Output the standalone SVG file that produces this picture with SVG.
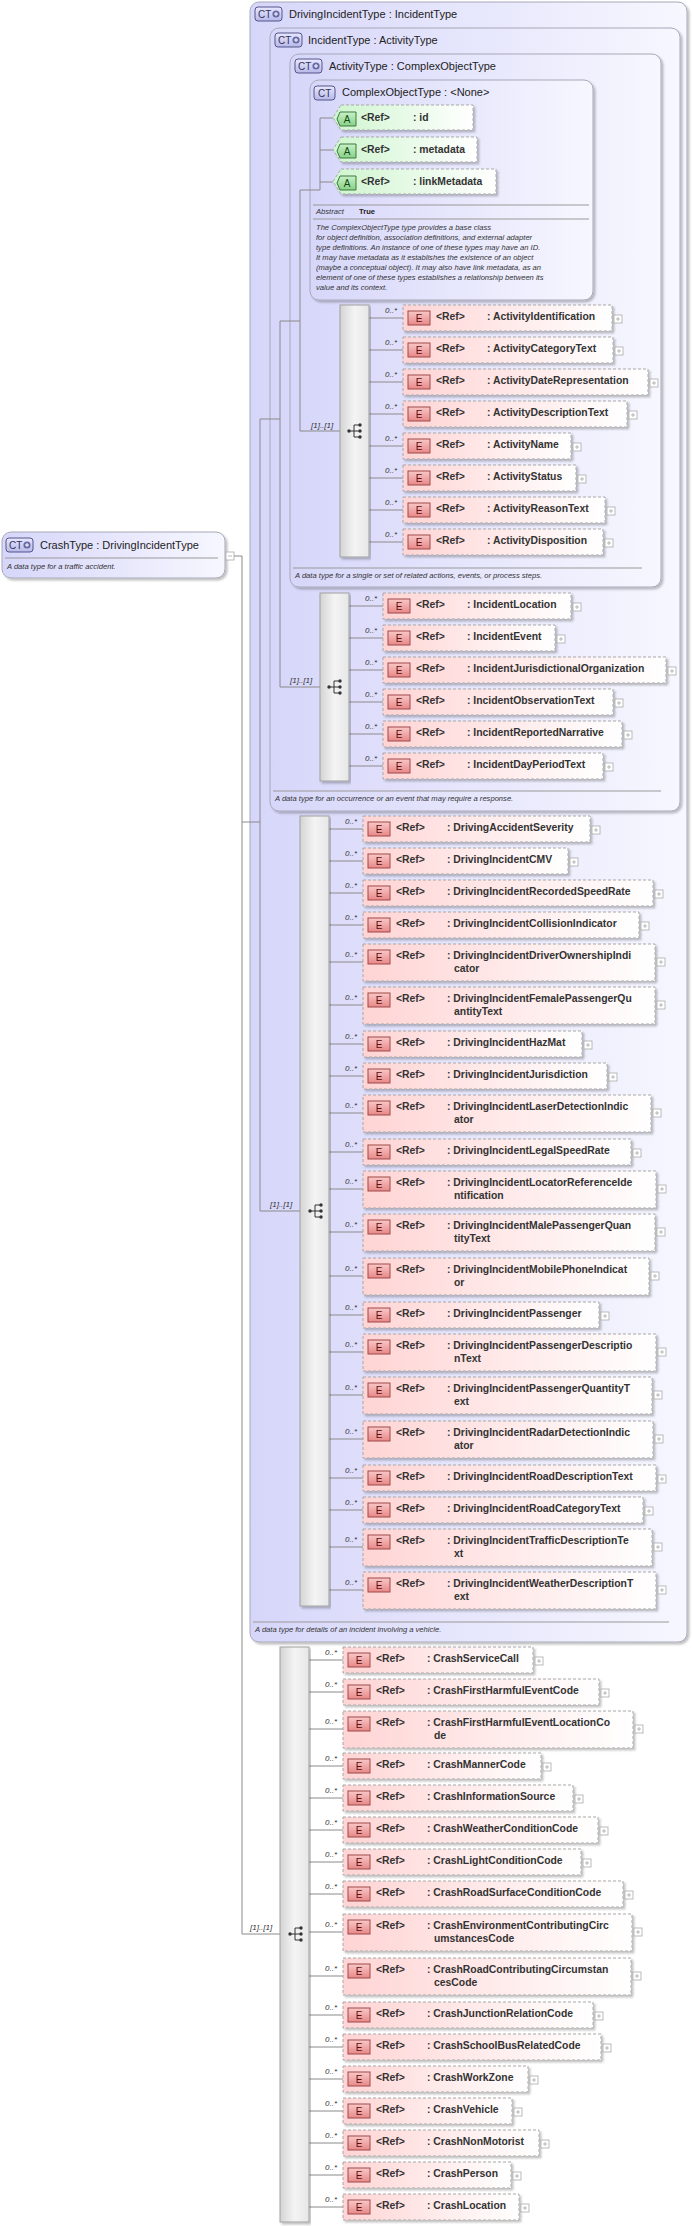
<svg xmlns="http://www.w3.org/2000/svg" width="692" height="2226" viewBox="0 0 692 2226">
<defs>
<linearGradient id="gBox" x1="0" y1="0" x2="1" y2="0"><stop offset="0" stop-color="#d6d6fa"/><stop offset="1" stop-color="#f7f7ff"/></linearGradient>
<linearGradient id="gEl" x1="0" y1="0" x2="1" y2="0"><stop offset="0" stop-color="#ffd4d4"/><stop offset="1" stop-color="#ffffff"/></linearGradient>
<linearGradient id="gAt" x1="0" y1="0" x2="1" y2="0"><stop offset="0" stop-color="#cff5cf"/><stop offset="1" stop-color="#ffffff"/></linearGradient>
<linearGradient id="gBar" x1="0" y1="0" x2="1" y2="0"><stop offset="0" stop-color="#d4d4d4"/><stop offset="0.5" stop-color="#f4f4f4"/><stop offset="1" stop-color="#e6e6e6"/></linearGradient>
<linearGradient id="gE" x1="0" y1="0" x2="0" y2="1"><stop offset="0" stop-color="#f9c8c8"/><stop offset="1" stop-color="#e88888"/></linearGradient>
<linearGradient id="gA" x1="0" y1="0" x2="0" y2="1"><stop offset="0" stop-color="#c8f0c8"/><stop offset="1" stop-color="#88d088"/></linearGradient>
<linearGradient id="gCT" x1="0" y1="0" x2="0" y2="1"><stop offset="0" stop-color="#e8e8ff"/><stop offset="1" stop-color="#b8b8e8"/></linearGradient>
<filter id="sh" x="-5%" y="-5%" width="110%" height="120%"><feDropShadow dx="2" dy="2" stdDeviation="1.2" flood-color="#000" flood-opacity="0.25"/></filter>
<g id="plus"><rect width="8" height="8" fill="#fff" stroke="#aaa" stroke-width="0.8"/><path d="M2 4H6M4 2V6" stroke="#aaa" stroke-width="0.8"/></g>
<g id="ctp"><circle r="3.6" fill="#6a6aa8"/><path d="M-2 0H2M0 -2V2" stroke="#fff" stroke-width="1"/></g>
<g id="seqi"><path d="M-6 0H-1M-1 -6V6M-1 -6H4M-1 0H4M-1 6H4" stroke="#333" stroke-width="1" fill="none"/><circle cx="-6" cy="0" r="1.7" fill="#333"/><circle cx="5" cy="-6" r="1.7" fill="#333"/><circle cx="5" cy="0" r="1.7" fill="#333"/><circle cx="5" cy="6" r="1.7" fill="#333"/></g>
</defs>
<style>
text{font-family:"Liberation Sans",Arial,sans-serif;fill:#222}
.box{fill:url(#gBox);stroke:#a8a8b8;stroke-width:1;filter:url(#sh)}
.ttl{font-size:11px}
.ct{fill:url(#gCT);stroke:#55558a;stroke-width:1}
.ctt{font-size:10px;fill:#33335a}
.el{fill:url(#gEl);stroke:#a8a8a8;stroke-dasharray:3,2;filter:url(#sh)}
.at{fill:url(#gAt);stroke:#a8a8a8;stroke-dasharray:3,2;filter:url(#sh)}
.ei{fill:url(#gE);stroke:#a04848}
.ai{fill:url(#gA);stroke:#3a7a3a}
.eit{font-size:10px;text-anchor:middle;fill:#5a1010}
.ait{font-size:10px;text-anchor:middle;fill:#104a10}
.nm{font-size:10.4px;font-weight:bold;fill:#333}
.mul{font-size:8px;font-style:italic;fill:#333}
.bar{fill:url(#gBar);stroke:#a0a0a0;filter:url(#sh)}
.ln{stroke:#8a8a8a;stroke-width:1;fill:none}
.dl{stroke:#999;stroke-width:1}
.desc{font-size:7.6px;font-style:italic;fill:#333}
</style>

<g id="DrivingIncidentType">
<rect class="box" x="250" y="2" width="437" height="1640" rx="9"/>
<rect class="ct" x="255" y="7" width="27" height="14" rx="3"/><text class="ctt" x="258" y="18">CT</text><use href="#ctp" x="276" y="14"/>
<text class="ttl" x="289" y="18">DrivingIncidentType : IncidentType</text>
<line class="dl" x1="253" y1="1622" x2="669" y2="1622"/>
<text class="desc" x="255" y="1632">A data type for details of an incident involving a vehicle.</text>
</g>
<g id="IncidentType">
<rect class="box" x="270" y="28" width="410" height="783" rx="9"/>
<rect class="ct" x="275" y="33" width="27" height="14" rx="3"/><text class="ctt" x="278" y="44">CT</text><use href="#ctp" x="296" y="40"/>
<text class="ttl" x="308" y="44">IncidentType : ActivityType</text>
<line class="dl" x1="273" y1="791" x2="661" y2="791"/>
<text class="desc" x="275" y="801">A data type for an occurrence or an event that may require a response.</text>
</g>
<g id="ActivityType">
<rect class="box" x="290" y="54" width="371" height="533" rx="9"/>
<rect class="ct" x="295" y="59" width="27" height="14" rx="3"/><text class="ctt" x="298" y="70">CT</text><use href="#ctp" x="316" y="66"/>
<text class="ttl" x="329" y="70">ActivityType : ComplexObjectType</text>
<line class="dl" x1="293" y1="568" x2="642" y2="568"/>
<text class="desc" x="295" y="578">A data type for a single or set of related actions, events, or process steps.</text>
</g>
<g id="ComplexObjectType">
<rect class="box" x="310" y="80" width="283" height="220" rx="9"/>
<rect class="ct" x="314" y="86" width="21" height="14" rx="3"/><text class="ctt" x="318" y="97">CT</text>
<text class="ttl" x="342" y="96">ComplexObjectType : &lt;None&gt;</text>
<line class="dl" x1="313" y1="205" x2="589" y2="205"/>
<text class="desc" x="316" y="214">Abstract</text><text x="359" y="214" style="font-size:7.6px;font-weight:bold">True</text>
<line class="dl" x1="313" y1="219" x2="589" y2="219"/>
<text class="desc" x="316" y="230">The ComplexObjectType type provides a base class</text>
<text class="desc" x="316" y="240">for object definition, association definitions, and external adapter</text>
<text class="desc" x="316" y="250">type definitions. An instance of one of these types may have an ID.</text>
<text class="desc" x="316" y="260">It may have metadata as it establishes the existence of an object</text>
<text class="desc" x="316" y="270">(maybe a conceptual object). It may also have link metadata, as an</text>
<text class="desc" x="316" y="280">element of one of these types establishes a relationship between its</text>
<text class="desc" x="316" y="290">value and its context.</text>
</g>

<g id="CrashType">
<rect class="box" x="2" y="532" width="223" height="46" rx="9"/>
<rect class="ct" x="6" y="538" width="27" height="14" rx="3"/><text class="ctt" x="9" y="549">CT</text><use href="#ctp" x="27" y="545"/>
<text class="ttl" x="40" y="549">CrashType : DrivingIncidentType</text>
<line class="dl" x1="5" y1="558" x2="218" y2="558"/>
<text class="desc" x="7" y="569">A data type for a traffic accident.</text>
<rect x="226" y="552" width="8" height="8" fill="#fff" stroke="#aaa" stroke-width="0.8"/><line x1="228" y1="556" x2="232" y2="556" stroke="#aaa" stroke-width="0.8"/>
</g>

<g id="connectors">
<path class="ln" d="M234 556H242V1934H280M242 822H260M260 419V1211H300M260 419H280M280 321V687H320M280 321H300M300 190V431H340M300 190H320M320 118V190M320 118H333M320 150H333M320 182H333"/>
<path class="ln" d="M369 318H403M369 350H403M369 382H403M369 414H403M369 446H403M369 478H403M369 510H403M369 542H403"/>
<path class="ln" d="M349 606H383M349 638H383M349 670H383M349 702H383M349 734H383M349 766H383"/>
<path class="ln" d="M329 829H363M329 861H363M329 893H363M329 925H363M329 962H363M329 1005H363M329 1044H363M329 1076H363M329 1113H363M329 1152H363M329 1189H363M329 1232H363M329 1276H363M329 1315H363M329 1352H363M329 1395H363M329 1439H363M329 1478H363M329 1510H363M329 1547H363M329 1590H363"/>
<path class="ln" d="M309 1660H343M309 1692H343M309 1729H343M309 1766H343M309 1798H343M309 1830H343M309 1862H343M309 1894H343M309 1932H343M309 1976H343M309 2015H343M309 2047H343M309 2079H343M309 2111H343M309 2143H343M309 2175H343M309 2207H343"/>
</g>

<g id="attributes">
<g id="a-id"><path class="at" d="M341 105H473V130H341L333 117.5Z"/><path class="ai" d="M340 112H356V126H340L337 119Z"/><text class="ait" x="347" y="123">A</text><text class="nm" x="361" y="121">&lt;Ref&gt;</text><text class="nm" x="413" y="121">: id</text></g>
<g id="a-metadata"><path class="at" d="M341 137H477V162H341L333 149.5Z"/><path class="ai" d="M340 144H356V158H340L337 151Z"/><text class="ait" x="347" y="155">A</text><text class="nm" x="361" y="153">&lt;Ref&gt;</text><text class="nm" x="413" y="153">: metadata</text></g>
<g id="a-linkMetadata"><path class="at" d="M341 169H496V194H341L333 181.5Z"/><path class="ai" d="M340 176H356V190H340L337 183Z"/><text class="ait" x="347" y="187">A</text><text class="nm" x="361" y="185">&lt;Ref&gt;</text><text class="nm" x="413" y="185">: linkMetadata</text></g>
</g>

<g id="sequences">
<rect class="bar" x="340" y="305" width="29" height="252"/>
<rect class="bar" x="320" y="593" width="29" height="188"/>
<rect class="bar" x="300" y="816" width="29" height="790"/>
<rect class="bar" x="280" y="1647" width="29" height="575"/>
<text class="mul" x="311" y="428">[1]..[1]</text>
<text class="mul" x="290" y="683">[1]..[1]</text>
<text class="mul" x="270" y="1207">[1]..[1]</text>
<text class="mul" x="250" y="1930">[1]..[1]</text>
<use href="#seqi" x="355" y="431"/>
<use href="#seqi" x="335" y="687"/>
<use href="#seqi" x="316" y="1211"/>
<use href="#seqi" x="296" y="1934"/>
</g>

<g id="activity-elements">
<g transform="translate(403,305)"><rect class="el" width="209" height="26"/><rect class="ei" x="5" y="6" width="22" height="14"/><text class="eit" x="16" y="17">E</text><text class="nm" x="33" y="15">&lt;Ref&gt;</text><text class="nm" x="84" y="15">: ActivityIdentification</text><use href="#plus" x="211" y="10"/><text class="mul" x="-18" y="8">0..*</text></g>
<g transform="translate(403,337)"><rect class="el" width="210" height="26"/><rect class="ei" x="5" y="6" width="22" height="14"/><text class="eit" x="16" y="17">E</text><text class="nm" x="33" y="15">&lt;Ref&gt;</text><text class="nm" x="84" y="15">: ActivityCategoryText</text><use href="#plus" x="212" y="10"/><text class="mul" x="-18" y="8">0..*</text></g>
<g transform="translate(403,369)"><rect class="el" width="245" height="26"/><rect class="ei" x="5" y="6" width="22" height="14"/><text class="eit" x="16" y="17">E</text><text class="nm" x="33" y="15">&lt;Ref&gt;</text><text class="nm" x="84" y="15">: ActivityDateRepresentation</text><use href="#plus" x="247" y="10"/><text class="mul" x="-18" y="8">0..*</text></g>
<g transform="translate(403,401)"><rect class="el" width="224" height="26"/><rect class="ei" x="5" y="6" width="22" height="14"/><text class="eit" x="16" y="17">E</text><text class="nm" x="33" y="15">&lt;Ref&gt;</text><text class="nm" x="84" y="15">: ActivityDescriptionText</text><use href="#plus" x="226" y="10"/><text class="mul" x="-18" y="8">0..*</text></g>
<g transform="translate(403,433)"><rect class="el" width="168" height="26"/><rect class="ei" x="5" y="6" width="22" height="14"/><text class="eit" x="16" y="17">E</text><text class="nm" x="33" y="15">&lt;Ref&gt;</text><text class="nm" x="84" y="15">: ActivityName</text><use href="#plus" x="170" y="10"/><text class="mul" x="-18" y="8">0..*</text></g>
<g transform="translate(403,465)"><rect class="el" width="173" height="26"/><rect class="ei" x="5" y="6" width="22" height="14"/><text class="eit" x="16" y="17">E</text><text class="nm" x="33" y="15">&lt;Ref&gt;</text><text class="nm" x="84" y="15">: ActivityStatus</text><use href="#plus" x="175" y="10"/><text class="mul" x="-18" y="8">0..*</text></g>
<g transform="translate(403,497)"><rect class="el" width="202" height="26"/><rect class="ei" x="5" y="6" width="22" height="14"/><text class="eit" x="16" y="17">E</text><text class="nm" x="33" y="15">&lt;Ref&gt;</text><text class="nm" x="84" y="15">: ActivityReasonText</text><use href="#plus" x="204" y="10"/><text class="mul" x="-18" y="8">0..*</text></g>
<g transform="translate(403,529)"><rect class="el" width="200" height="26"/><rect class="ei" x="5" y="6" width="22" height="14"/><text class="eit" x="16" y="17">E</text><text class="nm" x="33" y="15">&lt;Ref&gt;</text><text class="nm" x="84" y="15">: ActivityDisposition</text><use href="#plus" x="202" y="10"/><text class="mul" x="-18" y="8">0..*</text></g>
</g>

<g id="incident-elements">
<g transform="translate(383,593)"><rect class="el" width="188" height="26"/><rect class="ei" x="5" y="6" width="22" height="14"/><text class="eit" x="16" y="17">E</text><text class="nm" x="33" y="15">&lt;Ref&gt;</text><text class="nm" x="84" y="15">: IncidentLocation</text><use href="#plus" x="190" y="10"/><text class="mul" x="-18" y="8">0..*</text></g>
<g transform="translate(383,625)"><rect class="el" width="172" height="26"/><rect class="ei" x="5" y="6" width="22" height="14"/><text class="eit" x="16" y="17">E</text><text class="nm" x="33" y="15">&lt;Ref&gt;</text><text class="nm" x="84" y="15">: IncidentEvent</text><use href="#plus" x="174" y="10"/><text class="mul" x="-18" y="8">0..*</text></g>
<g transform="translate(383,657)"><rect class="el" width="283" height="26"/><rect class="ei" x="5" y="6" width="22" height="14"/><text class="eit" x="16" y="17">E</text><text class="nm" x="33" y="15">&lt;Ref&gt;</text><text class="nm" x="84" y="15">: IncidentJurisdictionalOrganization</text><use href="#plus" x="285" y="10"/><text class="mul" x="-18" y="8">0..*</text></g>
<g transform="translate(383,689)"><rect class="el" width="230" height="26"/><rect class="ei" x="5" y="6" width="22" height="14"/><text class="eit" x="16" y="17">E</text><text class="nm" x="33" y="15">&lt;Ref&gt;</text><text class="nm" x="84" y="15">: IncidentObservationText</text><use href="#plus" x="232" y="10"/><text class="mul" x="-18" y="8">0..*</text></g>
<g transform="translate(383,721)"><rect class="el" width="239" height="26"/><rect class="ei" x="5" y="6" width="22" height="14"/><text class="eit" x="16" y="17">E</text><text class="nm" x="33" y="15">&lt;Ref&gt;</text><text class="nm" x="84" y="15">: IncidentReportedNarrative</text><use href="#plus" x="241" y="10"/><text class="mul" x="-18" y="8">0..*</text></g>
<g transform="translate(383,753)"><rect class="el" width="220" height="26"/><rect class="ei" x="5" y="6" width="22" height="14"/><text class="eit" x="16" y="17">E</text><text class="nm" x="33" y="15">&lt;Ref&gt;</text><text class="nm" x="84" y="15">: IncidentDayPeriodText</text><use href="#plus" x="222" y="10"/><text class="mul" x="-18" y="8">0..*</text></g>
</g>

<g id="driving-elements">
<g transform="translate(363,816)"><rect class="el" width="227" height="26"/><rect class="ei" x="5" y="6" width="22" height="14"/><text class="eit" x="16" y="17">E</text><text class="nm" x="33" y="15">&lt;Ref&gt;</text><text class="nm" x="84" y="15">: DrivingAccidentSeverity</text><use href="#plus" x="229" y="10"/><text class="mul" x="-18" y="8">0..*</text></g>
<g transform="translate(363,848)"><rect class="el" width="205" height="26"/><rect class="ei" x="5" y="6" width="22" height="14"/><text class="eit" x="16" y="17">E</text><text class="nm" x="33" y="15">&lt;Ref&gt;</text><text class="nm" x="84" y="15">: DrivingIncidentCMV</text><use href="#plus" x="207" y="10"/><text class="mul" x="-18" y="8">0..*</text></g>
<g transform="translate(363,880)"><rect class="el" width="290" height="26"/><rect class="ei" x="5" y="6" width="22" height="14"/><text class="eit" x="16" y="17">E</text><text class="nm" x="33" y="15">&lt;Ref&gt;</text><text class="nm" x="84" y="15">: DrivingIncidentRecordedSpeedRate</text><use href="#plus" x="292" y="10"/><text class="mul" x="-18" y="8">0..*</text></g>
<g transform="translate(363,912)"><rect class="el" width="276" height="26"/><rect class="ei" x="5" y="6" width="22" height="14"/><text class="eit" x="16" y="17">E</text><text class="nm" x="33" y="15">&lt;Ref&gt;</text><text class="nm" x="84" y="15">: DrivingIncidentCollisionIndicator</text><use href="#plus" x="278" y="10"/><text class="mul" x="-18" y="8">0..*</text></g>
<g transform="translate(363,944)"><rect class="el" width="292" height="37"/><rect class="ei" x="5" y="6" width="22" height="14"/><text class="eit" x="16" y="17">E</text><text class="nm" x="33" y="15">&lt;Ref&gt;</text><text class="nm" x="84" y="15">: DrivingIncidentDriverOwnershipIndi</text><text class="nm" x="91" y="28">cator</text><use href="#plus" x="294" y="14"/><text class="mul" x="-18" y="13">0..*</text></g>
<g transform="translate(363,987)"><rect class="el" width="292" height="37"/><rect class="ei" x="5" y="6" width="22" height="14"/><text class="eit" x="16" y="17">E</text><text class="nm" x="33" y="15">&lt;Ref&gt;</text><text class="nm" x="84" y="15">: DrivingIncidentFemalePassengerQu</text><text class="nm" x="91" y="28">antityText</text><use href="#plus" x="294" y="14"/><text class="mul" x="-18" y="13">0..*</text></g>
<g transform="translate(363,1031)"><rect class="el" width="219" height="26"/><rect class="ei" x="5" y="6" width="22" height="14"/><text class="eit" x="16" y="17">E</text><text class="nm" x="33" y="15">&lt;Ref&gt;</text><text class="nm" x="84" y="15">: DrivingIncidentHazMat</text><use href="#plus" x="221" y="10"/><text class="mul" x="-18" y="8">0..*</text></g>
<g transform="translate(363,1063)"><rect class="el" width="244" height="26"/><rect class="ei" x="5" y="6" width="22" height="14"/><text class="eit" x="16" y="17">E</text><text class="nm" x="33" y="15">&lt;Ref&gt;</text><text class="nm" x="84" y="15">: DrivingIncidentJurisdiction</text><use href="#plus" x="246" y="10"/><text class="mul" x="-18" y="8">0..*</text></g>
<g transform="translate(363,1095)"><rect class="el" width="288" height="37"/><rect class="ei" x="5" y="6" width="22" height="14"/><text class="eit" x="16" y="17">E</text><text class="nm" x="33" y="15">&lt;Ref&gt;</text><text class="nm" x="84" y="15">: DrivingIncidentLaserDetectionIndic</text><text class="nm" x="91" y="28">ator</text><use href="#plus" x="290" y="14"/><text class="mul" x="-18" y="13">0..*</text></g>
<g transform="translate(363,1139)"><rect class="el" width="268" height="26"/><rect class="ei" x="5" y="6" width="22" height="14"/><text class="eit" x="16" y="17">E</text><text class="nm" x="33" y="15">&lt;Ref&gt;</text><text class="nm" x="84" y="15">: DrivingIncidentLegalSpeedRate</text><use href="#plus" x="270" y="10"/><text class="mul" x="-18" y="8">0..*</text></g>
<g transform="translate(363,1171)"><rect class="el" width="293" height="37"/><rect class="ei" x="5" y="6" width="22" height="14"/><text class="eit" x="16" y="17">E</text><text class="nm" x="33" y="15">&lt;Ref&gt;</text><text class="nm" x="84" y="15">: DrivingIncidentLocatorReferenceIde</text><text class="nm" x="91" y="28">ntification</text><use href="#plus" x="295" y="14"/><text class="mul" x="-18" y="13">0..*</text></g>
<g transform="translate(363,1214)"><rect class="el" width="292" height="37"/><rect class="ei" x="5" y="6" width="22" height="14"/><text class="eit" x="16" y="17">E</text><text class="nm" x="33" y="15">&lt;Ref&gt;</text><text class="nm" x="84" y="15">: DrivingIncidentMalePassengerQuan</text><text class="nm" x="91" y="28">tityText</text><use href="#plus" x="294" y="14"/><text class="mul" x="-18" y="13">0..*</text></g>
<g transform="translate(363,1258)"><rect class="el" width="286" height="37"/><rect class="ei" x="5" y="6" width="22" height="14"/><text class="eit" x="16" y="17">E</text><text class="nm" x="33" y="15">&lt;Ref&gt;</text><text class="nm" x="84" y="15">: DrivingIncidentMobilePhoneIndicat</text><text class="nm" x="91" y="28">or</text><use href="#plus" x="288" y="14"/><text class="mul" x="-18" y="13">0..*</text></g>
<g transform="translate(363,1302)"><rect class="el" width="236" height="26"/><rect class="ei" x="5" y="6" width="22" height="14"/><text class="eit" x="16" y="17">E</text><text class="nm" x="33" y="15">&lt;Ref&gt;</text><text class="nm" x="84" y="15">: DrivingIncidentPassenger</text><use href="#plus" x="238" y="10"/><text class="mul" x="-18" y="8">0..*</text></g>
<g transform="translate(363,1334)"><rect class="el" width="293" height="37"/><rect class="ei" x="5" y="6" width="22" height="14"/><text class="eit" x="16" y="17">E</text><text class="nm" x="33" y="15">&lt;Ref&gt;</text><text class="nm" x="84" y="15">: DrivingIncidentPassengerDescriptio</text><text class="nm" x="91" y="28">nText</text><use href="#plus" x="295" y="14"/><text class="mul" x="-18" y="13">0..*</text></g>
<g transform="translate(363,1377)"><rect class="el" width="289" height="37"/><rect class="ei" x="5" y="6" width="22" height="14"/><text class="eit" x="16" y="17">E</text><text class="nm" x="33" y="15">&lt;Ref&gt;</text><text class="nm" x="84" y="15">: DrivingIncidentPassengerQuantityT</text><text class="nm" x="91" y="28">ext</text><use href="#plus" x="291" y="14"/><text class="mul" x="-18" y="13">0..*</text></g>
<g transform="translate(363,1421)"><rect class="el" width="290" height="37"/><rect class="ei" x="5" y="6" width="22" height="14"/><text class="eit" x="16" y="17">E</text><text class="nm" x="33" y="15">&lt;Ref&gt;</text><text class="nm" x="84" y="15">: DrivingIncidentRadarDetectionIndic</text><text class="nm" x="91" y="28">ator</text><use href="#plus" x="292" y="14"/><text class="mul" x="-18" y="13">0..*</text></g>
<g transform="translate(363,1465)"><rect class="el" width="293" height="26"/><rect class="ei" x="5" y="6" width="22" height="14"/><text class="eit" x="16" y="17">E</text><text class="nm" x="33" y="15">&lt;Ref&gt;</text><text class="nm" x="84" y="15">: DrivingIncidentRoadDescriptionText</text><use href="#plus" x="295" y="10"/><text class="mul" x="-18" y="8">0..*</text></g>
<g transform="translate(363,1497)"><rect class="el" width="280" height="26"/><rect class="ei" x="5" y="6" width="22" height="14"/><text class="eit" x="16" y="17">E</text><text class="nm" x="33" y="15">&lt;Ref&gt;</text><text class="nm" x="84" y="15">: DrivingIncidentRoadCategoryText</text><use href="#plus" x="282" y="10"/><text class="mul" x="-18" y="8">0..*</text></g>
<g transform="translate(363,1529)"><rect class="el" width="289" height="37"/><rect class="ei" x="5" y="6" width="22" height="14"/><text class="eit" x="16" y="17">E</text><text class="nm" x="33" y="15">&lt;Ref&gt;</text><text class="nm" x="84" y="15">: DrivingIncidentTrafficDescriptionTe</text><text class="nm" x="91" y="28">xt</text><use href="#plus" x="291" y="14"/><text class="mul" x="-18" y="13">0..*</text></g>
<g transform="translate(363,1572)"><rect class="el" width="293" height="37"/><rect class="ei" x="5" y="6" width="22" height="14"/><text class="eit" x="16" y="17">E</text><text class="nm" x="33" y="15">&lt;Ref&gt;</text><text class="nm" x="84" y="15">: DrivingIncidentWeatherDescriptionT</text><text class="nm" x="91" y="28">ext</text><use href="#plus" x="295" y="14"/><text class="mul" x="-18" y="13">0..*</text></g>
</g>

<g id="crash-elements">
<g transform="translate(343,1647)"><rect class="el" width="190" height="26"/><rect class="ei" x="5" y="6" width="22" height="14"/><text class="eit" x="16" y="17">E</text><text class="nm" x="33" y="15">&lt;Ref&gt;</text><text class="nm" x="84" y="15">: CrashServiceCall</text><use href="#plus" x="192" y="10"/><text class="mul" x="-18" y="8">0..*</text></g>
<g transform="translate(343,1679)"><rect class="el" width="256" height="26"/><rect class="ei" x="5" y="6" width="22" height="14"/><text class="eit" x="16" y="17">E</text><text class="nm" x="33" y="15">&lt;Ref&gt;</text><text class="nm" x="84" y="15">: CrashFirstHarmfulEventCode</text><use href="#plus" x="258" y="10"/><text class="mul" x="-18" y="8">0..*</text></g>
<g transform="translate(343,1711)"><rect class="el" width="290" height="37"/><rect class="ei" x="5" y="6" width="22" height="14"/><text class="eit" x="16" y="17">E</text><text class="nm" x="33" y="15">&lt;Ref&gt;</text><text class="nm" x="84" y="15">: CrashFirstHarmfulEventLocationCo</text><text class="nm" x="91" y="28">de</text><use href="#plus" x="292" y="14"/><text class="mul" x="-18" y="13">0..*</text></g>
<g transform="translate(343,1753)"><rect class="el" width="198" height="26"/><rect class="ei" x="5" y="6" width="22" height="14"/><text class="eit" x="16" y="17">E</text><text class="nm" x="33" y="15">&lt;Ref&gt;</text><text class="nm" x="84" y="15">: CrashMannerCode</text><use href="#plus" x="200" y="10"/><text class="mul" x="-18" y="8">0..*</text></g>
<g transform="translate(343,1785)"><rect class="el" width="230" height="26"/><rect class="ei" x="5" y="6" width="22" height="14"/><text class="eit" x="16" y="17">E</text><text class="nm" x="33" y="15">&lt;Ref&gt;</text><text class="nm" x="84" y="15">: CrashInformationSource</text><use href="#plus" x="232" y="10"/><text class="mul" x="-18" y="8">0..*</text></g>
<g transform="translate(343,1817)"><rect class="el" width="255" height="26"/><rect class="ei" x="5" y="6" width="22" height="14"/><text class="eit" x="16" y="17">E</text><text class="nm" x="33" y="15">&lt;Ref&gt;</text><text class="nm" x="84" y="15">: CrashWeatherConditionCode</text><use href="#plus" x="257" y="10"/><text class="mul" x="-18" y="8">0..*</text></g>
<g transform="translate(343,1849)"><rect class="el" width="238" height="26"/><rect class="ei" x="5" y="6" width="22" height="14"/><text class="eit" x="16" y="17">E</text><text class="nm" x="33" y="15">&lt;Ref&gt;</text><text class="nm" x="84" y="15">: CrashLightConditionCode</text><use href="#plus" x="240" y="10"/><text class="mul" x="-18" y="8">0..*</text></g>
<g transform="translate(343,1881)"><rect class="el" width="280" height="26"/><rect class="ei" x="5" y="6" width="22" height="14"/><text class="eit" x="16" y="17">E</text><text class="nm" x="33" y="15">&lt;Ref&gt;</text><text class="nm" x="84" y="15">: CrashRoadSurfaceConditionCode</text><use href="#plus" x="282" y="10"/><text class="mul" x="-18" y="8">0..*</text></g>
<g transform="translate(343,1914)"><rect class="el" width="289" height="37"/><rect class="ei" x="5" y="6" width="22" height="14"/><text class="eit" x="16" y="17">E</text><text class="nm" x="33" y="15">&lt;Ref&gt;</text><text class="nm" x="84" y="15">: CrashEnvironmentContributingCirc</text><text class="nm" x="91" y="28">umstancesCode</text><use href="#plus" x="291" y="14"/><text class="mul" x="-18" y="13">0..*</text></g>
<g transform="translate(343,1958)"><rect class="el" width="288" height="37"/><rect class="ei" x="5" y="6" width="22" height="14"/><text class="eit" x="16" y="17">E</text><text class="nm" x="33" y="15">&lt;Ref&gt;</text><text class="nm" x="84" y="15">: CrashRoadContributingCircumstan</text><text class="nm" x="91" y="28">cesCode</text><use href="#plus" x="290" y="14"/><text class="mul" x="-18" y="13">0..*</text></g>
<g transform="translate(343,2002)"><rect class="el" width="250" height="26"/><rect class="ei" x="5" y="6" width="22" height="14"/><text class="eit" x="16" y="17">E</text><text class="nm" x="33" y="15">&lt;Ref&gt;</text><text class="nm" x="84" y="15">: CrashJunctionRelationCode</text><use href="#plus" x="252" y="10"/><text class="mul" x="-18" y="8">0..*</text></g>
<g transform="translate(343,2034)"><rect class="el" width="258" height="26"/><rect class="ei" x="5" y="6" width="22" height="14"/><text class="eit" x="16" y="17">E</text><text class="nm" x="33" y="15">&lt;Ref&gt;</text><text class="nm" x="84" y="15">: CrashSchoolBusRelatedCode</text><use href="#plus" x="260" y="10"/><text class="mul" x="-18" y="8">0..*</text></g>
<g transform="translate(343,2066)"><rect class="el" width="185" height="26"/><rect class="ei" x="5" y="6" width="22" height="14"/><text class="eit" x="16" y="17">E</text><text class="nm" x="33" y="15">&lt;Ref&gt;</text><text class="nm" x="84" y="15">: CrashWorkZone</text><use href="#plus" x="187" y="10"/><text class="mul" x="-18" y="8">0..*</text></g>
<g transform="translate(343,2098)"><rect class="el" width="169" height="26"/><rect class="ei" x="5" y="6" width="22" height="14"/><text class="eit" x="16" y="17">E</text><text class="nm" x="33" y="15">&lt;Ref&gt;</text><text class="nm" x="84" y="15">: CrashVehicle</text><use href="#plus" x="171" y="10"/><text class="mul" x="-18" y="8">0..*</text></g>
<g transform="translate(343,2130)"><rect class="el" width="196" height="26"/><rect class="ei" x="5" y="6" width="22" height="14"/><text class="eit" x="16" y="17">E</text><text class="nm" x="33" y="15">&lt;Ref&gt;</text><text class="nm" x="84" y="15">: CrashNonMotorist</text><use href="#plus" x="198" y="10"/><text class="mul" x="-18" y="8">0..*</text></g>
<g transform="translate(343,2162)"><rect class="el" width="168" height="26"/><rect class="ei" x="5" y="6" width="22" height="14"/><text class="eit" x="16" y="17">E</text><text class="nm" x="33" y="15">&lt;Ref&gt;</text><text class="nm" x="84" y="15">: CrashPerson</text><use href="#plus" x="170" y="10"/><text class="mul" x="-18" y="8">0..*</text></g>
<g transform="translate(343,2194)"><rect class="el" width="176" height="26"/><rect class="ei" x="5" y="6" width="22" height="14"/><text class="eit" x="16" y="17">E</text><text class="nm" x="33" y="15">&lt;Ref&gt;</text><text class="nm" x="84" y="15">: CrashLocation</text><use href="#plus" x="178" y="10"/><text class="mul" x="-18" y="8">0..*</text></g>
</g>
</svg>
